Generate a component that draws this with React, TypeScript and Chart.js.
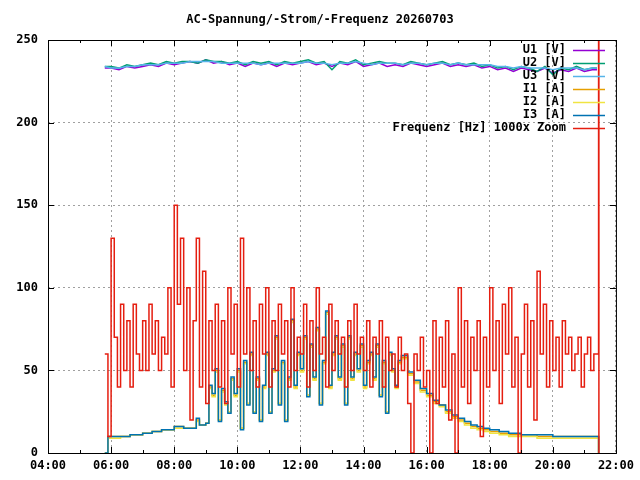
import React, { useEffect, useRef } from "react";
import { Chart, registerables } from "chart.js";
Chart.register(...registerables);

const TITLE = "AC-Spannung/-Strom/-Frequenz 20260703";
const X_TICKS = [4, 6, 8, 10, 12, 14, 16, 18, 20, 22];
const Y_TICKS = [0, 50, 100, 150, 200, 250];

// Frequency (1000x zoom), sampled from 5.8h every 0.1h
const FREQ_START = 5.8;
const FREQ_STEP = 0.1;
const freq = [60,10,130,70,40,90,50,80,40,90,60,50,80,50,90,60,80,50,70,60,100,40,150,90,130,50,100,20,80,130,40,110,30,80,50,90,40,80,30,100,60,90,40,130,60,100,50,80,40,90,60,100,40,80,50,90,60,80,40,100,50,70,60,90,40,80,50,100,60,70,40,90,50,80,60,70,40,80,50,90,60,70,50,80,40,70,60,80,40,70,50,60,40,70,50,60,30,0,60,50,70,40,50,0,80,30,70,40,80,20,60,0,100,40,80,30,70,50,80,10,70,40,100,50,80,30,90,60,100,40,70,0,60,90,40,80,20,110,60,90,40,80,50,70,40,80,60,70,50,60,70,40,60,70,50,60,60];
const FREQ_END_H = [21.45, 21.46];
const FREQ_END_V = [250, 0];

// Currents
const curH = [5.8,5.9,6.0,6.3,6.6,7.0,7.3,7.6,8.0,8.3,8.6,8.7,8.8,9.0,9.1,9.2,9.3,9.4,9.5,9.6,9.7,9.8,9.9,10.0,10.1,10.2,10.3,10.4,10.5,10.6,10.7,10.8,10.9,11.0,11.1,11.2,11.3,11.4,11.5,11.6,11.7,11.8,11.9,12.0,12.1,12.2,12.3,12.4,12.5,12.6,12.7,12.8,12.9,13.0,13.1,13.2,13.3,13.4,13.5,13.6,13.7,13.8,13.9,14.0,14.1,14.2,14.3,14.4,14.5,14.6,14.7,14.8,14.9,15.0,15.1,15.2,15.4,15.6,15.8,16.0,16.2,16.4,16.6,16.8,17.0,17.2,17.4,17.6,17.8,18.0,18.3,18.6,19.0,19.5,20.0,20.5,21.0,21.4,21.45];
const i1 = [0,10,10,10,11,12,13,14,16,15,15,20,17,18,40,35,50,20,38,30,25,45,35,50,15,55,30,60,25,45,20,40,60,25,50,70,30,55,20,45,80,40,60,50,70,35,65,45,75,30,55,85,40,60,70,45,65,30,70,45,60,50,65,40,55,60,45,65,35,55,25,60,50,40,55,58,48,43,38,35,31,29,25,22,20,18,16,15,14,13,12,11,11,10,10,10,10,10,0];
const i2 = [0,9,9,10,11,12,13,14,15,15,15,19,17,18,39,34,49,20,37,29,25,44,34,49,15,54,30,59,25,44,20,39,59,25,49,69,30,54,20,44,79,39,59,49,69,35,64,44,74,30,54,84,39,59,69,44,64,30,69,44,59,49,64,39,54,59,44,64,35,54,25,59,49,39,54,57,47,42,37,34,30,28,24,21,19,17,15,14,13,12,11,10,10,9,9,9,9,9,0];
const i3 = [0,10,10,10,11,12,13,14,16,15,15,21,17,18,41,36,51,19,39,31,24,46,36,51,14,56,29,61,24,46,19,41,61,24,51,71,29,56,19,46,81,41,61,51,71,34,66,46,76,29,56,86,41,61,71,46,66,29,71,46,61,51,66,41,56,61,46,66,34,56,24,61,51,41,56,59,49,44,39,36,32,29,26,23,21,19,17,16,15,14,13,12,11,11,10,10,10,10,0];

// Voltages
const uH = [5.8,6.0,6.25,6.5,6.75,7.0,7.25,7.5,7.75,8.0,8.25,8.5,8.75,9.0,9.25,9.5,9.75,10.0,10.25,10.5,10.75,11.0,11.25,11.5,11.75,12.0,12.25,12.5,12.75,13.0,13.25,13.5,13.75,14.0,14.25,14.5,14.75,15.0,15.25,15.5,15.75,16.0,16.25,16.5,16.75,17.0,17.25,17.5,17.75,18.0,18.25,18.5,18.75,19.0,19.25,19.5,19.75,20.0,20.25,20.5,20.75,21.0,21.25,21.4];
const u1 = [233,233,232,234,233,234,235,234,236,235,236,237,236,238,236,237,235,236,234,236,235,236,234,236,235,236,237,235,236,234,236,235,237,234,235,236,234,235,234,236,235,234,235,236,234,235,234,235,233,234,232,233,231,233,232,231,233,230,232,231,233,231,232,232];
const u2 = [234,234,233,235,234,235,236,235,237,236,237,237,236,238,237,237,236,237,235,237,236,237,235,237,236,237,238,236,237,232,237,236,238,235,236,237,236,236,235,237,236,235,236,237,235,236,235,236,234,235,233,234,232,234,233,231,234,229,233,232,234,232,233,233];
const u3 = [234,233,233,234,234,235,235,235,236,236,236,237,237,237,237,236,236,236,236,236,235,236,236,236,236,236,237,236,236,235,236,236,237,236,235,236,236,236,235,236,236,235,236,236,235,236,235,235,235,235,234,234,233,234,233,233,233,232,233,233,233,232,233,233];

const LEGEND = [
  ["U1 [V]", "#9400d3"],
  ["U2 [V]", "#009e73"],
  ["U3 [V]", "#56b4e9"],
  ["I1 [A]", "#e69f00"],
  ["I2 [A]", "#f0e442"],
  ["I3 [A]", "#0072b2"],
  ["Frequenz [Hz] 1000x Zoom", "#e51e10"],
];

const FONT = "'DejaVu Sans Mono', monospace";

export default function App() {
  const ref = useRef<HTMLCanvasElement>(null);
  useEffect(() => {
    const zip = (h: number[], v: number[]) => h.map((x, i) => ({ x, y: v[i] }));
    const freqPts = freq.map((y, i) => ({ x: FREQ_START + i * FREQ_STEP, y }));
    FREQ_END_H.forEach((x, i) => freqPts.push({ x, y: FREQ_END_V[i] }));
    const ds = (label: string, data: any[], color: string, order: number, stepped: any) => ({
      label, data, borderColor: color, backgroundColor: color, borderWidth: 1.5,
      pointRadius: 0, stepped, order, fill: false,
    });
    const overlay = {
      id: "overlay",
      afterDraw(c: any) {
        const ctx = c.ctx;
        const a = c.chartArea;
        ctx.save();
        ctx.fillStyle = "#000";
        ctx.font = `bold 12px ${FONT}`;
        ctx.textAlign = "center";
        ctx.textBaseline = "middle";
        ctx.fillText(TITLE, 320, 20);
        ctx.textAlign = "right";
        LEGEND.forEach(([t, col], i) => {
          const y = 50 + i * 13;
          ctx.fillStyle = "#000";
          ctx.fillText(t, 566, y);
          ctx.strokeStyle = col;
          ctx.lineWidth = 1.5;
          ctx.beginPath();
          ctx.moveTo(573, y + 0.5);
          ctx.lineTo(605, y + 0.5);
          ctx.stroke();
        });
        ctx.strokeStyle = "#000";
        ctx.lineWidth = 1;
        ctx.strokeRect(Math.round(a.left) + 0.5, Math.round(a.top) + 0.5, a.right - a.left, a.bottom - a.top);
        const xs = c.scales.x, ys = c.scales.y;
        ctx.beginPath();
        for (let h = 4; h <= 22; h += 1) {
          const px = Math.round(xs.getPixelForValue(h)) + 0.5;
          const len = h % 2 === 0 ? 6 : 3;
          ctx.moveTo(px, a.bottom); ctx.lineTo(px, a.bottom - len);
          ctx.moveTo(px, a.top); ctx.lineTo(px, a.top + len);
        }
        Y_TICKS.forEach((v) => {
          const py = Math.round(ys.getPixelForValue(v)) + 0.5;
          ctx.moveTo(a.left, py); ctx.lineTo(a.left + 6, py);
          ctx.moveTo(a.right, py); ctx.lineTo(a.right - 6, py);
        });
        ctx.stroke();
        ctx.restore();
      },
    };
    const chart = new Chart(ref.current!, {
      type: "line",
      data: {
        datasets: [
          ds("U1 [V]", zip(uH, u1), "#9400d3", 6, false),
          ds("U2 [V]", zip(uH, u2), "#009e73", 5, false),
          ds("U3 [V]", zip(uH, u3), "#56b4e9", 4, false),
          ds("I1 [A]", zip(curH, i1), "#e69f00", 3, "before"),
          ds("I2 [A]", zip(curH, i2), "#f0e442", 2, "before"),
          ds("I3 [A]", zip(curH, i3), "#0072b2", 1, "before"),
          ds("Frequenz", freqPts, "#e51e10", 0, "before"),
        ],
      },
      options: {
        responsive: false,
        animation: false,
        layout: { padding: { top: 40, right: 23, left: 0, bottom: 0 } },
        plugins: { legend: { display: false }, tooltip: { enabled: false } },
        scales: {
          x: {
            type: "linear", min: 4, max: 22,
            afterBuildTicks: (s: any) => { s.ticks = X_TICKS.map((v) => ({ value: v })); },
            afterFit: (s: any) => { s.height = 27; },
            grid: { color: "#a0a0a0", lineWidth: 1, drawTicks: false },
            border: { display: false, dash: [2, 3] },
            ticks: {
              color: "#000", font: { family: FONT, size: 12, weight: "bold" }, padding: 6, maxRotation: 0,
              callback: (v: any) => String(v).padStart(2, "0") + ":00",
            },
          },
          y: {
            min: 0, max: 250,
            afterBuildTicks: (s: any) => { s.ticks = Y_TICKS.map((v) => ({ value: v })); },
            afterFit: (s: any) => { s.width = 48; },
            grid: { color: "#a0a0a0", lineWidth: 1, drawTicks: false },
            border: { display: false, dash: [2, 3] },
            ticks: { color: "#000", font: { family: FONT, size: 12, weight: "bold" }, padding: 10 },
          },
        },
      },
      plugins: [overlay],
    } as any);
    return () => chart.destroy();
  }, []);
  return (
    <div style={{ position: "fixed", left: 0, top: 0, width: 640, height: 480, background: "#fff" }}>
      <canvas ref={ref} width={640} height={480} />
    </div>
  );
}
